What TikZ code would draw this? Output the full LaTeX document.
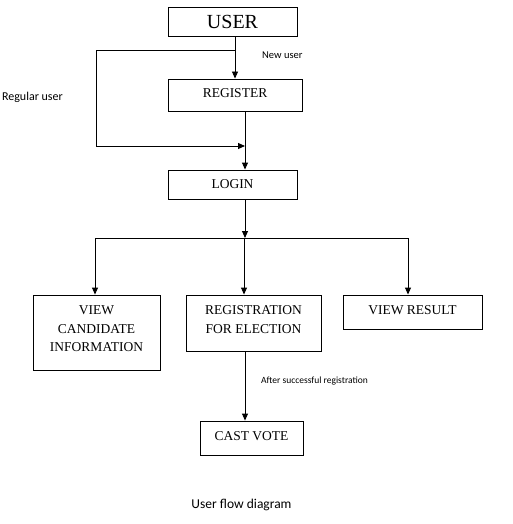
\documentclass[tikz,border=0pt]{standalone}
\usepackage{fontspec}
\setmainfont{Liberation Serif}
\newfontfamily\lblfont{Carlito}
\usetikzlibrary{arrows.meta}
\begin{document}
\begin{tikzpicture}[x=1pt,y=-1pt,
  box/.style={draw, line width=0.9pt, inner sep=0pt, align=center, font=\fontsize{13.5}{18.5}\selectfont},
  upshift/.style={text depth=#1},
  conn/.style={line width=0.9pt},
  arr/.style={conn, -{Triangle[length=7pt,width=6pt]}},
  lbl/.style={inner sep=0pt}]
\useasboundingbox (0,0) rectangle (512,524);
\fill[white] (0,0) rectangle (512,524);
% boxes
\node[box, minimum width=129pt, minimum height=29pt, font=\fontsize{20}{24}\selectfont] (user) at (232.5,21.5) {USER};
\node[box, minimum width=134pt, minimum height=32pt, upshift=3pt] (reg) at (235,95) {REGISTER};
\node[box, minimum width=129pt, minimum height=29pt] (login) at (232.5,184.5) {LOGIN};
\node[box, minimum width=127pt, minimum height=75pt, upshift=7pt] (vc) at (96.5,332.5) {VIEW\\CANDIDATE\\INFORMATION};
\node[box, minimum width=135pt, minimum height=56pt, upshift=7pt] (re) at (253.5,323) {REGISTRATION\\FOR ELECTION};
\node[box, minimum width=139pt, minimum height=34pt, upshift=4pt] (vr) at (412.5,312) {VIEW RESULT};
\node[box, minimum width=103pt, minimum height=34pt, upshift=3pt] (cv) at (251.5,438) {CAST VOTE};
% coordinates
\coordinate (b1) at (235,50);
\coordinate (j1) at (245,146);
\coordinate (j2) at (245,238);
\coordinate (l2) at (95,238);
\coordinate (r2) at (408,238);
\coordinate (m2) at (244,238);
% connectors
\draw[arr] (user.south -| reg.north) -- (reg.north);
\draw[arr] (b1) -- (96,50) -- (96,146) -- (j1);
\draw[arr] (reg.south -| j1) -- (login.north -| j1);
\draw[arr] (login.south -| j2) -- (j2);
\draw[conn] (l2) -- (r2);
\draw[arr] (l2) -- (vc.north -| l2);
\draw[arr] (m2) -- (re.north -| m2);
\draw[arr] (r2) -- (vr.north -| r2);
\draw[arr] (re.south -| j2) -- (cv.north -| j2);
% labels
\node[lbl, anchor=west, font=\lblfont\fontsize{10.5}{12}\selectfont] (nu) at (262,55) {New user};
\node[lbl, anchor=east, font=\lblfont\fontsize{12}{14}\selectfont] (ru) at (63,97) {Regular user};
\node[lbl, anchor=west, font=\lblfont\fontsize{9.5}{12}\selectfont] (as) at (261,381) {After successful registration};
\node[lbl, font=\lblfont\fontsize{13.5}{16}\selectfont] (cap) at (241.5,505) {User flow diagram};
\end{tikzpicture}
\end{document}
